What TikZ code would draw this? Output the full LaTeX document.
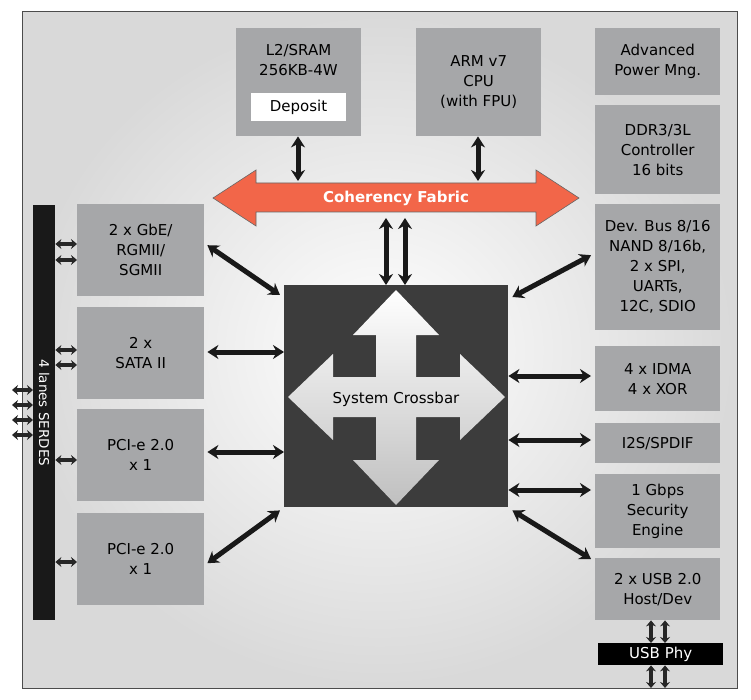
\documentclass[tikz,border=0pt]{standalone}
\usepackage{fontspec}
\setmainfont{DejaVu Sans}
\usetikzlibrary{arrows.meta}
\definecolor{blk}{HTML}{A6A7A9}
\definecolor{fabric}{HTML}{F26649}
\definecolor{xbar}{HTML}{3C3C3C}
\begin{document}
\begin{tikzpicture}[x=1pt,y=-1pt,
  blk/.style={fill=blk,draw=none,inner sep=0pt,align=center,anchor=north west,
    font=\fontsize{15}{20}\selectfont,text=black},
  dbl/.style={{Stealth[length=11pt,width=14pt]}-{Stealth[length=11pt,width=14pt]},line width=5pt,black!90},
  sm/.style={{Stealth[length=6pt,width=10pt]}-{Stealth[length=6pt,width=10pt]},line width=3.5pt,black!85}]
\useasboundingbox (0,0) rectangle (751,700);
% frame
\draw[draw=black!70,line width=1pt,inner color=white,outer color=black!15] (22,12) rectangle (737,688);
% top blocks
\node[blk,minimum width=125pt,minimum height=108pt] (l2) at (236,28) {};
\node[font=\fontsize{15}{20}\selectfont,align=center] at (298.5,60) {L2/SRAM\\256KB-4W};
\node[fill=white,minimum width=95pt,minimum height=28pt,inner sep=0pt,font=\fontsize{15}{20}\selectfont] (dep) at (298.5,107) {Deposit};
\node[blk,minimum width=125pt,minimum height=108pt] (arm) at (416,28) {ARM v7\\CPU\\(with FPU)};
\node[blk,minimum width=125pt,minimum height=67pt] (pwr) at (595,28) {Advanced\\Power Mng.};
\node[blk,minimum width=125pt,minimum height=89pt] (ddr) at (595,105) {DDR3/3L\\Controller\\16 bits};
% left blocks
\node[blk,minimum width=127pt,minimum height=92pt] (gbe) at (77,204) {2 x GbE/\\RGMII/\\SGMII};
\node[blk,minimum width=127pt,minimum height=92pt] (sata) at (77,307) {2 x\\SATA II};
\node[blk,minimum width=127pt,minimum height=92pt] (pcia) at (77,409) {PCI-e 2.0\\x 1};
\node[blk,minimum width=127pt,minimum height=92pt] (pcib) at (77,513) {PCI-e 2.0\\x 1};
% right blocks
\node[blk,minimum width=125pt,minimum height=126pt] (dev) at (595,204) {Dev. Bus 8/16\\NAND 8/16b,\\2 x SPI,\\UARTs,\\12C, SDIO};
\node[blk,minimum width=125pt,minimum height=65pt] (idma) at (595,346) {4 x IDMA\\4 x XOR};
\node[blk,minimum width=125pt,minimum height=40pt] (i2s) at (595,423) {I2S/SPDIF};
\node[blk,minimum width=125pt,minimum height=74pt] (sec) at (595,474) {1 Gbps\\Security\\Engine};
\node[blk,minimum width=125pt,minimum height=62pt] (usb) at (595,558) {2 x USB 2.0\\Host/Dev};
\node[fill=black,text=white,minimum width=125pt,minimum height=22pt,inner sep=0pt,
  font=\fontsize{15}{20}\selectfont,anchor=north west] (phy) at (598,643) {USB Phy};
% serdes
\node[fill=black!90,minimum width=22pt,minimum height=415pt,inner sep=0pt,anchor=north west] (serdes) at (33,205) {};
\node[rotate=-90,text=white,font=\fontsize{13.5}{16}\selectfont] at (serdes.center) {4 lanes SERDES};
% crossbar
\node[fill=xbar,minimum width=224pt,minimum height=222pt,inner sep=0pt,anchor=north west] (xb) at (284,285) {};
\shade[top color=white,bottom color=black!25,draw=none]
  (288,397) -- (333,354) -- (333,377) -- (376,377) -- (376,335) -- (353,335) -- (396,290)
  -- (439,335) -- (416,335) -- (416,377) -- (460,377) -- (460,354) -- (505,397)
  -- (460,440) -- (460,417) -- (416,417) -- (416,460) -- (439,460) -- (396,505)
  -- (353,460) -- (376,460) -- (376,417) -- (333,417) -- (333,440) -- cycle;
\node[font=\fontsize{15}{20}\selectfont] at (396,399) {System Crossbar};
% coherency fabric
\draw[fill=fabric,draw=black!60,line width=0.6pt]
  (213,198) -- (256,170) -- (256,183) -- (536,183) -- (536,170) -- (579,198)
  -- (536,226) -- (536,212) -- (256,212) -- (256,226) -- cycle;
\node[text=white,font=\bfseries\fontsize{15}{20}\selectfont] (cf) at (396,198) {Coherency Fabric};
% connections
\draw[dbl] (l2.south -| 298,0) -- (298,181);
\draw[dbl] (arm.south -| 478,0) -- (478,181);
\draw[dbl] (386,218) -- (xb.north -| 386,0);
\draw[dbl] (405,218) -- (xb.north -| 405,0);
\draw[dbl] ([xshift=3pt,yshift=5pt]gbe.east) -- ([xshift=-4pt,yshift=-10pt]xb.north west);
\draw[dbl] ([xshift=3pt]sata.east |- 0,352) -- (xb.west |- 0,352);
\draw[dbl] ([xshift=3pt]pcia.east |- 0,452) -- (xb.west |- 0,452);
\draw[dbl] ([xshift=3pt,yshift=-4pt]pcib.east) -- ([xshift=-4pt,yshift=-3pt]xb.south west);
\draw[dbl] ([xshift=-4pt,yshift=12pt]dev.east -| dev.west) -- ([xshift=4pt,yshift=-12pt]xb.north east);
\draw[dbl] ([xshift=-4pt]idma.west |- 0,376) -- (xb.east |- 0,376);
\draw[dbl] ([xshift=-4pt]i2s.west |- 0,440) -- (xb.east |- 0,440);
\draw[dbl] ([xshift=-4pt]sec.west |- 0,490) -- (xb.east |- 0,490);
\draw[dbl] ([xshift=-4pt,yshift=-1pt]usb.north west) -- ([xshift=4pt,yshift=-3pt]xb.south east);
% small links
\foreach \y in {244,260,350,365,460,562}
  \draw[sm] (serdes.east |- 0,\y) -- (gbe.west |- 0,\y);
\foreach \y in {390,405,420,435}
  \draw[sm] (12,\y) -- (serdes.west |- 0,\y);
\foreach \x in {651,665}{
  \draw[sm] (usb.south -| \x,0) -- (phy.north -| \x,0);
  \draw[sm] (phy.south -| \x,0) -- (\x,688);}
\end{tikzpicture}
\end{document}
